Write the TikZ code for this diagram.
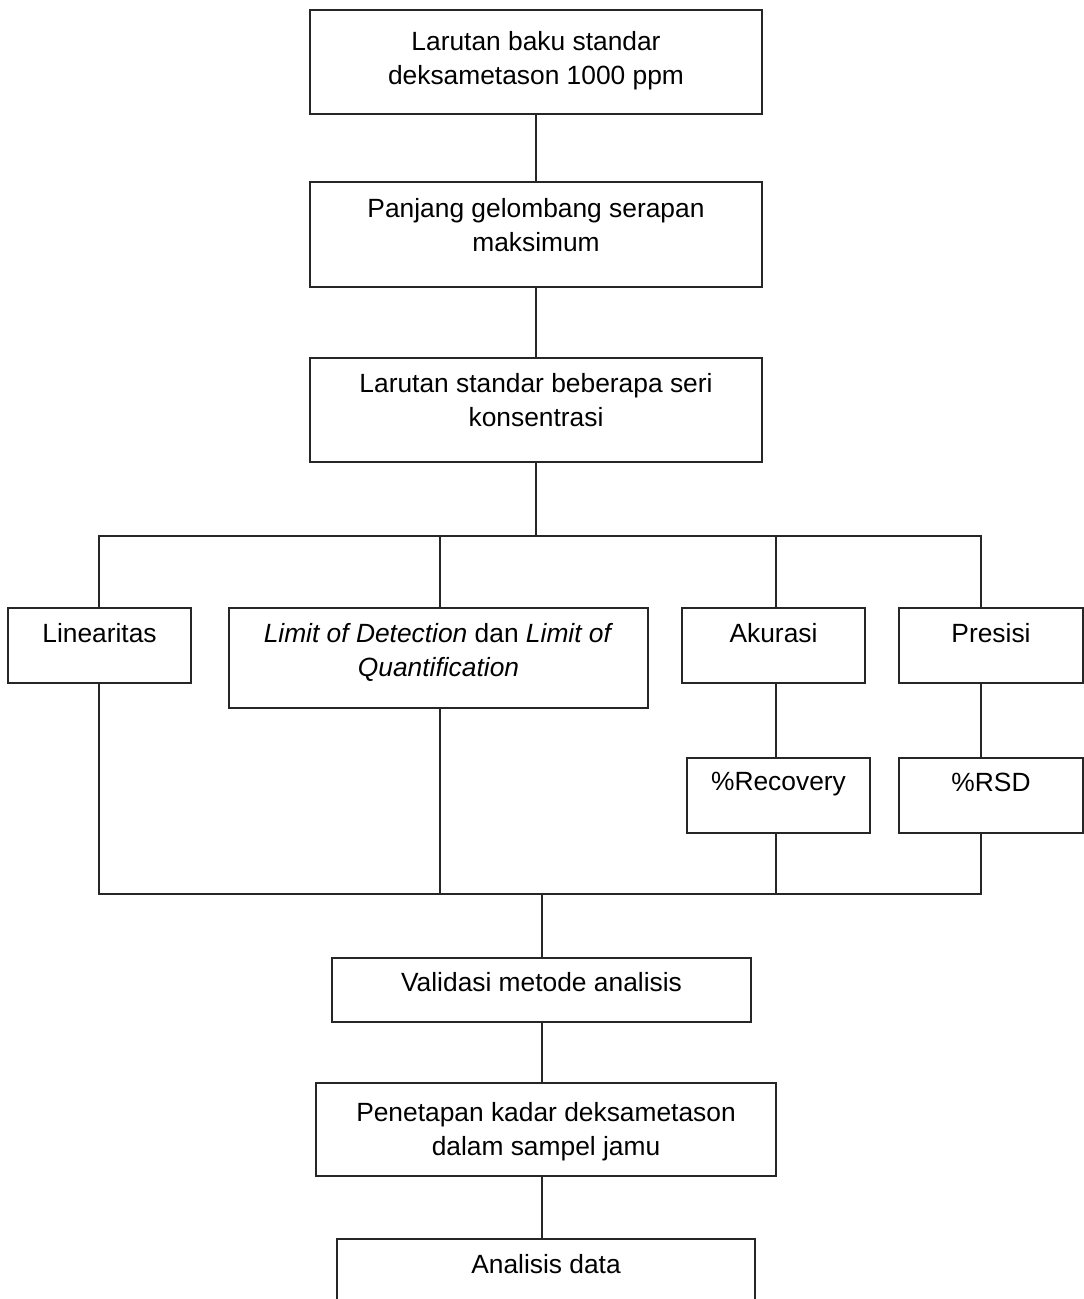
\documentclass[tikz,border=0pt]{standalone}
\usepackage{fontspec}
\setmainfont{Liberation Sans}
\usetikzlibrary{positioning,fit}
\tikzset{
 kotak/.style={draw=black!85,line width=0.8pt,inner sep=0pt},
 teks/.style={inner sep=0pt,align=center,font=\fontsize{15}{19}\selectfont},
 garis/.style={draw=black!85,line width=0.8pt}
}
\begin{document}
\begin{tikzpicture}[x=0.02cm,y=-0.02cm]
 \useasboundingbox (0,0) rectangle (1084,1299);
 \node[kotak,fit={(310,10) (762,114)}] (baku) {};
 \node[teks,below=0.44cm of baku.north] (tbaku) {Larutan baku standar\\deksametason 1000 ppm};
 \node[kotak,fit={(310,182) (762,287)}] (gel) {};
 \node[teks,below=0.34cm of gel.north] (tgel) {Panjang gelombang serapan\\maksimum};
 \node[kotak,fit={(310,358) (762,462)}] (seri) {};
 \node[teks,below=0.32cm of seri.north] (tseri) {Larutan standar beberapa seri\\konsentrasi};
 \node[kotak,fit={(8,608) (191,683)}] (lin) {};
 \node[teks,below=0.32cm of lin.north] (tlin) {Linearitas};
 \node[kotak,fit={(229,608) (648,708)}] (lod) {};
 \node[teks,below=0.32cm of lod.north] (tlod) {\textit{Limit of Detection} dan \textit{Limit of}\\\textit{Quantification}};
 \node[kotak,fit={(682,608) (865,683)}] (akur) {};
 \node[teks,below=0.32cm of akur.north] (takur) {Akurasi};
 \node[kotak,fit={(899,608) (1083,683)}] (pres) {};
 \node[teks,below=0.32cm of pres.north] (tpres) {Presisi};
 \node[kotak,fit={(687,758) (870,833)}] (rec) {};
 \node[teks,below=0.30cm of rec.north] (trec) {\%Recovery};
 \node[kotak,fit={(899,758) (1083,833)}] (rsd) {};
 \node[teks,below=0.30cm of rsd.north] (trsd) {\%RSD};
 \node[kotak,fit={(332,958) (751,1022)}] (val) {};
 \node[teks,below=0.30cm of val.north] (tval) {Validasi metode analisis};
 \node[kotak,fit={(316,1083) (776,1176)}] (pen) {};
 \node[teks,below=0.40cm of pen.north] (tpen) {Penetapan kadar deksametason\\dalam sampel jamu};
 \node[kotak,fit={(337,1239) (755,1340)}] (ana) {};
 \node[teks,below=0.32cm of ana.north] (tana) {Analisis data};
 \coordinate (ta) at (99,536);
 \coordinate (tb) at (981,536);
 \coordinate (c1) at (440,536);
 \coordinate (c2) at (776,536);
 \coordinate (ba) at (99,894);
 \coordinate (bb) at (981,894);
 \coordinate (bc) at (542,894);
 \draw[garis] (baku.south) -- (gel.north);
 \draw[garis] (gel.south) -- (seri.north);
 \draw[garis] (seri.south) -- (seri.south |- ta);
 \draw[garis] (ta |- lin.north) -- (ta) -- (tb) -- (tb |- pres.north);
 \draw[garis] (c1) -- (c1 |- lod.north);
 \draw[garis] (c2) -- (c2 |- akur.north);
 \draw[garis] (c2 |- akur.south) -- (c2 |- rec.north);
 \draw[garis] (tb |- pres.south) -- (tb |- rsd.north);
 \draw[garis] (ba |- lin.south) -- (ba) -- (bb) -- (tb |- rsd.south);
 \draw[garis] (c1 |- lod.south) -- (c1 |- ba);
 \draw[garis] (c2 |- rec.south) -- (c2 |- ba);
 \draw[garis] (bc) -- (bc |- val.north);
 \draw[garis] (bc |- val.south) -- (bc |- pen.north);
 \draw[garis] (bc |- pen.south) -- (bc |- ana.north);
\end{tikzpicture}
\end{document}
